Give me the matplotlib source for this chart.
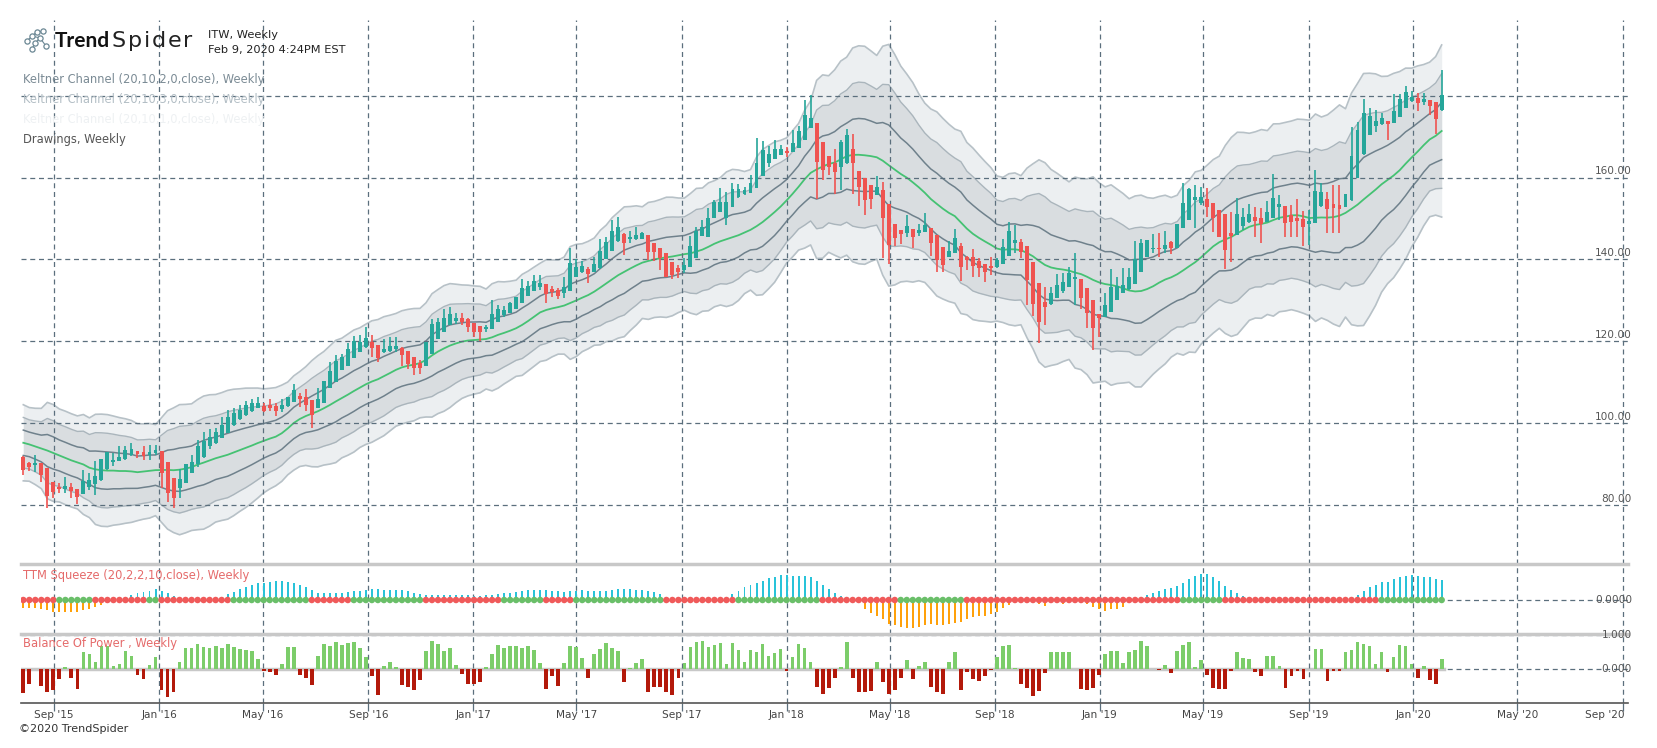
import numpy as np
import pandas as pd
import matplotlib
matplotlib.use('Agg')
import matplotlib.pyplot as plt
import matplotlib.dates as mdates
import matplotlib.transforms as mtransforms

plt.rcParams['font.family'] = ['DejaVu Sans']

# ITW weekly candles, first week starts Mon 2015-07-27
FIRST_WEEK = '2015-07-27'

OPEN = [
    91.8, 90.3, 89.8, 90.2, 89.0, 85.5, 84.5, 84.0, 84.5, 83.9,
    82.8, 84.3, 85.1, 86.1, 88.7, 90.6, 90.8, 91.2, 92.2, 93.2,
    93.0, 92.2, 92.6, 93.2, 90.6, 86.7, 84.1, 85.3, 87.7, 89.9,
    91.7, 94.4, 95.1, 96.3, 97.7, 99.5, 100.9, 101.9, 103.0, 103.8,
    104.2, 104.4, 104.2, 103.4, 104.2, 105.1, 106.6, 106.3, 105.7, 103.6,
    105.0, 108.7, 110.1, 113.0, 114.0, 116.0, 117.5, 118.5, 119.9, 119.1,
    117.3, 117.7, 118.0, 118.4, 117.6, 116.2, 114.6, 114.0, 117.0, 120.5,
    122.3, 124.0, 125.0, 125.6, 125.5, 124.5, 123.7, 123.0, 123.1, 124.8,
    126.3, 126.8, 128.0, 129.3, 131.1, 132.4, 133.3, 133.9, 132.8, 132.5,
    131.9, 132.4, 135.8, 137.0, 137.6, 137.0, 137.8, 140.0, 142.1, 144.5,
    146.2, 145.1, 145.0, 145.1, 146.0, 143.9, 142.7, 141.5, 139.4, 138.0,
    137.4, 138.1, 140.4, 145.7, 145.6, 150.2, 151.7, 150.0, 152.9, 155.2,
    156.0, 156.3, 157.5, 160.4, 163.6, 164.5, 165.5, 166.5, 166.3, 167.3,
    169.2, 172.0, 173.4, 168.8, 165.3, 163.6, 162.7, 163.5, 166.9, 161.7,
    159.8, 158.2, 155.7, 157.0, 153.5, 148.7, 147.2, 146.4, 147.4, 146.5,
    146.8, 147.6, 146.0, 143.1, 140.7, 141.5, 143.4, 140.7, 140.5, 139.7,
    138.9, 138.2, 138.1, 139.0, 140.9, 143.9, 144.3, 143.3, 139.4, 134.2,
    129.6, 129.0, 130.5, 132.4, 133.3, 135.3, 135.1, 132.9, 130.1, 126.7,
    126.0, 127.2, 130.1, 131.9, 132.7, 134.1, 137.0, 140.5, 142.5, 142.9,
    142.5, 144.3, 142.9, 147.6, 149.6, 154.5, 153.9, 154.7, 153.9, 152.1,
    151.1, 146.5, 146.0, 148.1, 149.2, 150.4, 150.2, 149.2, 150.0, 152.7,
    153.0, 150.8, 150.2, 149.8, 148.6, 149.0, 153.0, 154.7, 153.5, 153.3,
    152.9, 154.5, 159.8, 165.7, 170.4, 172.6, 173.1, 173.8, 173.4, 174.9,
    176.9, 178.8, 179.5, 178.5, 178.9, 178.5, 176.5,
]
HIGH = [
    92.0, 90.5, 92.2, 90.2, 89.0, 85.7, 85.3, 86.9, 85.3, 83.9,
    88.5, 87.7, 90.7, 91.2, 93.0, 92.6, 94.3, 94.4, 95.2, 93.2,
    94.3, 94.6, 94.6, 93.2, 90.6, 86.7, 88.9, 89.9, 92.2, 96.0,
    97.9, 98.5, 98.7, 101.6, 103.1, 103.6, 104.4, 105.4, 105.8, 106.3,
    104.8, 105.9, 104.8, 106.0, 106.5, 109.5, 107.4, 108.3, 105.7, 108.5,
    110.3, 115.0, 116.6, 116.9, 119.5, 121.3, 121.5, 123.4, 121.5, 119.1,
    120.5, 121.0, 121.0, 118.7, 117.6, 116.2, 115.4, 119.9, 125.4, 125.8,
    128.0, 128.4, 127.0, 126.8, 125.7, 124.5, 123.7, 124.0, 130.1, 128.9,
    128.5, 129.7, 130.9, 135.2, 134.7, 136.2, 136.2, 133.9, 133.5, 133.1,
    135.6, 142.7, 140.2, 139.6, 138.2, 140.7, 144.9, 145.5, 149.6, 150.4,
    146.4, 146.9, 147.8, 146.8, 146.0, 144.1, 142.7, 141.5, 139.4, 138.6,
    140.3, 145.7, 148.0, 149.6, 152.5, 154.5, 157.4, 156.5, 158.7, 158.4,
    157.6, 160.6, 169.6, 168.9, 167.8, 169.2, 168.0, 167.5, 171.6, 172.6,
    178.9, 180.2, 173.4, 168.8, 165.3, 166.9, 169.2, 171.8, 170.6, 161.7,
    159.8, 158.2, 160.4, 159.0, 153.5, 148.7, 147.2, 150.9, 147.4, 148.6,
    151.3, 147.6, 146.0, 143.1, 144.6, 147.4, 143.9, 140.9, 142.5, 140.3,
    138.9, 140.5, 140.3, 144.9, 149.2, 148.4, 145.0, 143.3, 139.4, 134.2,
    133.2, 133.3, 136.4, 136.6, 138.2, 141.6, 135.1, 132.9, 130.1, 126.7,
    131.7, 137.6, 135.8, 137.8, 137.8, 144.6, 145.1, 144.7, 146.1, 146.4,
    147.0, 144.5, 148.6, 158.7, 157.4, 158.2, 157.8, 157.4, 153.9, 152.1,
    151.1, 151.5, 155.1, 152.5, 153.5, 152.9, 152.5, 154.3, 160.9, 155.7,
    153.0, 153.3, 154.7, 151.9, 152.1, 161.8, 158.7, 156.5, 158.2, 158.2,
    156.0, 172.3, 173.6, 179.3, 176.9, 176.5, 175.8, 173.8, 180.4, 180.4,
    182.4, 181.2, 180.6, 180.6, 178.9, 178.5, 186.3,
]
LOW = [
    87.3, 88.4, 88.1, 85.5, 79.2, 81.6, 82.9, 82.9, 81.6, 80.2,
    82.8, 83.7, 82.4, 85.9, 88.5, 89.5, 90.8, 91.0, 92.0, 91.6,
    91.0, 91.0, 92.2, 84.1, 80.8, 79.3, 81.6, 85.3, 87.7, 89.4,
    91.4, 93.8, 94.9, 96.3, 97.5, 99.3, 100.8, 101.7, 102.8, 103.6,
    102.8, 103.0, 101.7, 102.8, 104.0, 105.1, 104.0, 102.9, 98.7, 103.6,
    104.8, 108.5, 110.1, 113.0, 114.0, 116.0, 117.5, 118.3, 116.1, 115.0,
    117.1, 117.5, 117.5, 114.0, 113.2, 111.8, 112.0, 114.0, 117.0, 120.5,
    122.3, 124.0, 124.2, 124.0, 122.2, 121.0, 120.0, 122.3, 123.1, 124.8,
    126.0, 126.8, 128.0, 129.3, 131.1, 132.4, 132.5, 129.4, 130.9, 130.3,
    130.5, 132.4, 135.8, 136.8, 134.2, 137.0, 137.6, 140.0, 142.1, 144.3,
    141.1, 144.0, 144.7, 145.0, 139.8, 139.7, 137.4, 135.6, 135.2, 135.4,
    136.6, 138.1, 140.4, 145.7, 145.6, 150.0, 151.7, 148.4, 152.9, 154.9,
    155.7, 156.3, 157.5, 160.4, 162.7, 164.5, 165.5, 165.1, 166.3, 167.3,
    169.2, 172.0, 154.8, 159.4, 160.6, 156.1, 157.0, 163.3, 156.1, 153.1,
    150.9, 152.3, 155.7, 140.4, 139.0, 143.4, 143.8, 145.6, 142.9, 145.8,
    146.8, 140.8, 137.0, 137.0, 140.7, 141.5, 134.8, 137.5, 135.8, 135.6,
    134.6, 136.2, 137.8, 139.0, 140.9, 141.5, 140.3, 128.9, 126.2, 119.7,
    124.0, 128.9, 130.5, 131.7, 133.3, 128.9, 128.0, 123.2, 117.9, 121.1,
    126.0, 127.2, 130.1, 131.9, 132.5, 134.1, 137.0, 140.5, 141.5, 140.7,
    141.5, 141.3, 142.9, 147.6, 149.6, 147.6, 153.3, 150.4, 146.8, 145.6,
    137.6, 139.4, 146.0, 147.2, 148.8, 145.6, 143.9, 149.2, 150.0, 149.6,
    145.6, 145.6, 145.6, 143.4, 143.5, 149.0, 152.9, 146.4, 146.4, 146.4,
    152.9, 154.3, 159.8, 165.5, 170.4, 171.2, 172.8, 169.2, 173.4, 174.9,
    176.9, 178.5, 176.3, 177.7, 175.3, 170.6, 176.3,
]
CLOSE = [
    88.6, 89.4, 90.2, 87.3, 82.2, 83.1, 83.8, 84.6, 83.5, 81.9,
    85.9, 86.1, 87.1, 91.2, 92.9, 91.0, 91.8, 93.4, 93.7, 92.5,
    92.0, 92.9, 93.4, 87.7, 82.9, 81.6, 86.4, 89.9, 90.6, 94.3,
    95.6, 96.7, 97.8, 99.5, 101.6, 102.4, 103.2, 104.4, 104.8, 104.8,
    103.0, 103.6, 103.0, 104.4, 106.5, 108.1, 105.9, 104.4, 102.1, 106.0,
    110.3, 112.7, 115.3, 116.2, 118.0, 120.1, 119.9, 120.7, 118.4, 115.8,
    118.0, 118.8, 118.8, 116.6, 114.4, 113.4, 113.5, 119.9, 124.2, 124.8,
    125.6, 126.7, 125.8, 124.8, 123.6, 122.3, 122.3, 123.4, 126.7, 127.8,
    127.6, 129.4, 130.9, 132.9, 133.6, 134.7, 134.3, 131.5, 132.0, 131.1,
    133.2, 139.2, 138.2, 138.4, 136.4, 139.0, 142.0, 144.2, 146.9, 147.8,
    144.1, 145.3, 146.0, 146.5, 141.9, 141.9, 140.3, 135.8, 136.2, 137.0,
    138.6, 143.3, 146.9, 147.8, 150.2, 154.1, 154.1, 154.0, 157.2, 157.1,
    157.0, 158.6, 163.6, 166.7, 165.8, 166.9, 167.1, 166.1, 168.5, 171.4,
    175.3, 174.5, 163.9, 161.8, 162.5, 161.4, 168.8, 170.4, 163.5, 157.6,
    154.5, 154.7, 157.8, 150.0, 143.5, 145.3, 146.1, 148.2, 145.6, 147.2,
    148.4, 144.1, 139.9, 138.6, 142.1, 145.2, 138.2, 139.9, 138.4, 137.8,
    137.0, 138.0, 139.8, 143.1, 146.9, 144.7, 141.9, 135.0, 129.1, 124.8,
    128.4, 131.9, 133.7, 134.6, 136.8, 135.8, 130.6, 126.8, 123.2, 125.6,
    128.9, 133.3, 133.5, 133.7, 135.8, 140.2, 143.9, 144.7, 142.8, 142.5,
    143.5, 142.7, 148.6, 153.7, 157.2, 155.3, 155.3, 152.9, 150.0, 145.6,
    142.3, 145.7, 151.1, 150.4, 151.1, 149.4, 148.6, 151.6, 155.1, 153.5,
    148.8, 149.2, 149.4, 147.8, 149.4, 156.7, 156.4, 152.2, 152.6, 152.4,
    156.0, 165.3, 171.6, 175.7, 175.0, 173.8, 174.6, 173.2, 176.3, 179.1,
    180.9, 179.6, 178.1, 179.1, 177.6, 174.3, 180.2,
]

# channel middle line for the first 19 weeks (history before the chart is not shown)
MID_HEAD = [95.2, 94.8, 94.3, 93.8, 93.3, 92.7, 92.1, 91.5, 90.9, 90.4,
            89.9, 89.1, 88.7, 88.5, 88.4, 88.4, 88.3, 88.3, 88.2]
ATR_HEAD = 3.1

# TTM squeeze momentum histogram (arbitrary units)
TTM_MOM = [
    -25, -25, -25, -27, -30, -35, -35, -35, -37, -35, -30, -27, -22, -15,
    -8, -3, 3,
    10, 15, 20, 25, 28, 33, 28, 20, 12,
    3, 2, 2, 2, 2, 3, 5,
    10, 17, 25, 32, 38, 45, 50, 52, 55, 57, 58, 55, 52, 45, 38, 30, 22,
    22, 22, 22, 22, 25, 28, 28, 30, 33,
    32, 30, 30, 30, 30, 28,
    22, 18, 15, 15, 15, 15, 15, 15, 15, 15,
    12, 12, 15, 15, 18, 20, 22, 25, 28, 30, 30, 30, 30, 27, 26,
    25, 27, 28, 30, 28, 28, 28, 28, 30, 33, 32, 32, 30, 30, 28, 25, 18, 10,
    3, 0, -5, -5, -3, -2, -1, 0, 2,
    5, 18, 28, 38, 45, 50, 58, 67, 70, 75, 76, 73, 73, 73, 70, 58, 45, 33, 22, 12, 3,
    -3, -10, -28, -40, -48, -58, -72, -75, -80, -84, -85, -82, -75, -72, -74, -76,
    -73, -70, -67, -58, -52, -48, -48, -42, -35, -25, -15,
    -8, -5, -5, -8, -12, -17, -10, -10, -12, -8, -5,
    -8, -12, -20, -28, -32, -28, -27, -20, -10, 0, 5, 15, 22, 28, 33, 35, 42, 52,
    63, 73, 78, 78, 68, 58, 42, 30, 20, 12, 7, 3, 1, 0, -1, -2, -3, -5, -8, -8,
    -5, -2, 0, 1, 1, 2, 3, 5, 15, 28, 38, 45, 53, 55, 62, 70, 73, 76, 73, 70,
    68, 63, 60,
]
# squeeze dots: runs of (state, weeks); 'on' = red dot, 'off' = green dot
SQUEEZE_RUNS = [('on', 6), ('off', 6), ('on', 9), ('off', 2), ('on', 12), ('off', 13),
                ('on', 7), ('off', 12), ('on', 13), ('off', 7), ('on', 5), ('off', 15),
                ('on', 12), ('off', 14), ('on', 13), ('off', 11), ('on', 36), ('off', 7),
                ('on', 26), ('off', 11)]

# balance of power, one value per week
BOP = [
    -0.72, -0.44, 0.00, -0.49, -0.69, -0.61, -0.29, 0.07, -0.25, -0.59,
    0.49, 0.44, 0.20, 0.69, 0.67, 0.10, 0.15, 0.54, 0.39, -0.18,
    -0.29, 0.12, 0.34, -0.61, -0.83, -0.69, 0.20, 0.61, 0.61, 0.74,
    0.64, 0.61, 0.69, 0.61, 0.74, 0.64, 0.59, 0.57, 0.54, 0.29,
    -0.05, -0.08, -0.18, 0.15, 0.64, 0.64, -0.18, -0.27, -0.46, 0.37,
    0.74, 0.69, 0.80, 0.71, 0.76, 0.78, 0.61, 0.34, -0.20, -0.76,
    0.08, 0.22, 0.05, -0.46, -0.54, -0.61, -0.31, 0.54, 0.83, 0.74,
    0.54, 0.61, 0.12, -0.15, -0.44, -0.44, -0.37, 0.05, 0.44, 0.71,
    0.61, 0.69, 0.69, 0.61, 0.69, 0.57, 0.18, -0.59, -0.20, -0.49,
    0.18, 0.67, 0.64, 0.31, -0.25, 0.44, 0.59, 0.76, 0.61, 0.54,
    -0.39, 0.02, 0.18, 0.29, -0.67, -0.54, -0.54, -0.67, -0.75, -0.25,
    0.18, 0.64, 0.80, 0.83, 0.64, 0.71, 0.76, 0.15, 0.76, 0.57,
    0.22, 0.57, 0.49, 0.74, 0.39, 0.47, 0.59, -0.05, 0.34, 0.74,
    0.61, 0.20, -0.54, -0.74, -0.57, -0.25, 0.05, 0.78, -0.25, -0.67,
    -0.67, -0.64, 0.22, -0.39, -0.74, -0.61, -0.25, 0.27, -0.29, 0.10,
    0.22, -0.54, -0.69, -0.74, 0.22, 0.51, -0.61, -0.08, -0.29, -0.34,
    -0.22, -0.02, 0.34, 0.67, 0.71, 0.03, -0.44, -0.57, -0.80, -0.64,
    -0.12, 0.49, 0.49, 0.51, 0.51, 0.00, -0.59, -0.61, -0.57, -0.18,
    0.44, 0.54, 0.54, 0.18, 0.49, 0.57, 0.83, 0.69, 0.00, -0.03,
    0.12, -0.12, 0.54, 0.71, 0.80, 0.05, 0.26, -0.18, -0.57, -0.59,
    -0.59, -0.05, 0.51, 0.31, 0.29, -0.10, -0.20, 0.37, 0.39, 0.10,
    -0.57, -0.22, -0.05, -0.29, 0.00, 0.59, 0.59, -0.34, -0.05, -0.05,
    0.49, 0.57, 0.80, 0.74, 0.67, 0.15, 0.49, -0.08, 0.34, 0.71,
    0.69, 0.15, -0.25, 0.10, -0.31, -0.44, 0.29,
]

PRICE_TICKS = [80, 100, 120, 140, 160, 180]
PRICE_LABELS = ['80.00', '100.00', '120.00', '140.00', '160.00', '']
MONTH_TICKS = ['2015-09-01', '2016-01-01', '2016-05-01', '2016-09-01', '2017-01-01',
               '2017-05-01', '2017-09-01', '2018-01-01', '2018-05-01', '2018-09-01',
               '2019-01-01', '2019-05-01', '2019-09-01', '2020-01-01', '2020-05-01',
               '2020-09-01']
MONTH_LABELS = ["Sep '15", "Jan '16", "May '16", "Sep '16", "Jan '17", "May '17",
                "Sep '17", "Jan '18", "May '18", "Sep '18", "Jan '19", "May '19",
                "Sep '19", "Jan '20", "May '20", "Sep '20"]

o, h, l, c = (np.array(v, dtype=float) for v in (OPEN, HIGH, LOW, CLOSE))
n = len(c)
assert len(o) == len(h) == len(l) == n and len(TTM_MOM) == n and len(BOP) == n
dates = pd.date_range(FIRST_WEEK, periods=n, freq='W-MON')
x = mdates.date2num(dates)

# keltner channel: 20 week average, 10 week (wilder) average true range
mid = pd.Series(c).rolling(20).mean().to_numpy()
mid[:len(MID_HEAD)] = MID_HEAD
prev_c = np.r_[c[0], c[:-1]]
tr = np.maximum(h - l, np.maximum(np.abs(h - prev_c), np.abs(l - prev_c)))
atr = np.empty(n)
atr[0] = ATR_HEAD
for i in range(1, n):
    atr[i] = atr[i - 1] + (tr[i] - atr[i - 1]) / 10

bop = np.array(BOP)
squeeze = np.concatenate([[s == 'on'] * k for s, k in SQUEEZE_RUNS])
mom = np.array(TTM_MOM, dtype=float)

W, H = 1657, 748
fig = plt.figure(figsize=(W / 100, H / 100), dpi=100)
fig.patch.set_facecolor('white')


def rect(x0, y0, x1, y1):
    return [x0 / W, 1 - y1 / H, (x1 - x0) / W, (y1 - y0) / H]


ax = fig.add_axes(rect(21, 20, 1628, 564))
ax_t = fig.add_axes(rect(21, 564, 1628, 634))
ax_b = fig.add_axes(rect(21, 634, 1628, 702.5))

px_day = 6.01 / 7
x_left = x[0] - 2.3 / px_day
x_right = x_left + 1607 / px_day
GRID = '#5b6f7d'
month_x = mdates.date2num(pd.to_datetime(MONTH_TICKS))

for a in (ax, ax_t, ax_b):
    a.set_xlim(x_left, x_right)
    a.set_facecolor('none')
    a.set_yticks([])
    for s in a.spines.values():
        s.set_visible(False)
    for mx in month_x:
        a.axvline(mx, color=GRID, lw=0.9, ls=(0, (4, 3)), zorder=2)

# ---- price panel
ax.set_ylim(65.58, 198.5)
ax.fill_between(x, mid - 3 * atr, mid + 3 * atr, color='#eceff1', lw=0, zorder=1)
ax.fill_between(x, mid - 2 * atr, mid + 2 * atr, color='#d9dde0', lw=0, zorder=1.1)
for k, col, lw in ((3, '#b7c1c7', 1.2), (2, '#aab5bc', 1.0), (1, '#6f818c', 1.1)):
    ax.plot(x, mid + k * atr, color=col, lw=lw, zorder=1.5)
    ax.plot(x, mid - k * atr, color=col, lw=lw, zorder=1.5)
ax.plot(x, mid, color='#45c273', lw=1.3, zorder=1.6)

for p in PRICE_TICKS:
    ax.axhline(p, color=GRID, lw=0.9, ls=(0, (4, 3)), zorder=2)

up = c >= o
col = np.where(up, '#26a69a', '#ef5350')
ax.vlines(x, l, h, colors=col, lw=1.2, zorder=3)
ax.bar(x, np.maximum(np.abs(c - o), 0.3), bottom=np.minimum(o, c), width=4.6,
       color=col, lw=0, zorder=4)
ax.set_xticks([])

tr_lab = mtransforms.blended_transform_factory(fig.transFigure, ax.transData)
for p, lab in zip(PRICE_TICKS, PRICE_LABELS):
    ax.text(1632 / W, p + 0.3, lab, transform=tr_lab, ha='right', va='bottom',
            fontsize=7.6, color='#555555', clip_on=False)

# ---- TTM squeeze panel
ax_t.set_ylim(-102, 108)
ax_t.axhline(0, color=GRID, lw=0.9, ls=(0, (4, 3)), zorder=1)
ax_t.bar(x, mom, width=2.3, color=np.where(mom >= 0, '#29c3d9', '#ffa10a'), lw=0, zorder=2)
ax_t.scatter(x, np.zeros(n), s=22, c=np.where(squeeze, '#f05a5a', '#6abf69'),
             linewidths=0, zorder=3)
ax_t.spines['top'].set_visible(True)
ax_t.spines['top'].set_color('#c8c8c8')
ax_t.spines['top'].set_linewidth(2.5)
ax_t.set_xticks([])
tr_t = mtransforms.blended_transform_factory(fig.transFigure, ax_t.transData)
ax_t.text(1632 / W, 0, '0.0000', transform=tr_t, ha='right', va='center',
          fontsize=7.6, color='#555555', clip_on=False)

# ---- balance of power panel
ax_b.set_ylim(-0.985, 1.03)
ax_b.axhline(1, color=GRID, lw=0.9, ls=(0, (4, 3)), zorder=1)
ax_b.axhline(0, color=GRID, lw=0.9, ls=(0, (4, 3)), zorder=1)
ax_b.plot([x_left, x[-1] + 3], [0, 0], color='#c8c8c8', lw=2.5, zorder=1.2)
ax_b.bar(x, bop, width=4.4, color=np.where(bop >= 0, '#7ccd6a', '#b3190a'), lw=0, zorder=2)
ax_b.spines['top'].set_visible(True)
ax_b.spines['top'].set_color('#c8c8c8')
ax_b.spines['top'].set_linewidth(2.5)
ax_b.spines['bottom'].set_visible(True)
ax_b.spines['bottom'].set_color('#555555')
ax_b.spines['bottom'].set_linewidth(1.2)
ax_b.set_xticks(month_x)
ax_b.set_xticklabels([])
ax_b.tick_params(axis='x', length=6, width=0.9, color=GRID, direction='out')
tr_b = mtransforms.blended_transform_factory(fig.transFigure, ax_b.transData)
for v, lab in ((1, '1.000'), (0, '0.000')):
    ax_b.text(1632 / W, v, lab, transform=tr_b, ha='right', va='center',
              fontsize=7.6, color='#555555', clip_on=False)

tr_x = mtransforms.blended_transform_factory(ax_b.transData, fig.transFigure)
for i, (mx, lab) in enumerate(zip(month_x, MONTH_LABELS)):
    last = i == len(month_x) - 1
    ax_b.text(mx + (2 / px_day if last else 0), 1 - 715 / H, lab, transform=tr_x,
              ha='right' if last else 'center', va='center', fontsize=7.6,
              color='#444444', clip_on=False)

# ---- header and legend texts
ax_logo = fig.add_axes(rect(22, 26, 52, 54))
ax_logo.set_xlim(22, 52)
ax_logo.set_ylim(54, 26)
ax_logo.axis('off')
nodes = [(27, 41), (32, 36), (37, 32), (43, 31), (40, 38), (35, 43), (46, 46), (32, 49)]
edges = [(0, 1), (1, 2), (2, 3), (1, 4), (4, 6), (4, 5), (5, 7)]
for a_, b_ in edges:
    ax_logo.plot([nodes[a_][0], nodes[b_][0]], [nodes[a_][1], nodes[b_][1]],
                 color='#6b8794', lw=0.8)
ax_logo.scatter([p[0] for p in nodes], [p[1] for p in nodes], s=14, facecolor='white',
                edgecolor='#6b8794', lw=0.9, zorder=3)

renderer = fig.canvas.get_renderer()
t1 = fig.text(55 / W, 1 - 46.7 / H, 'Trend', fontsize=15, fontweight='bold',
              family='Lato', va='baseline', color='#111111')
xpos = t1.get_window_extent(renderer).x1 + 1.5
for ch in 'Spider':
    t = fig.text(xpos / W, 1 - 46.7 / H, ch, fontsize=16, family='DejaVu Sans',
                 va='baseline', color='#222222')
    xpos = t.get_window_extent(renderer).x1 + 1.8

fig.text(208 / W, 1 - 35 / H, 'ITW, Weekly', fontsize=8.2, va='center', color='#222222')
fig.text(208 / W, 1 - 50 / H, 'Feb 9, 2020 4:24PM EST', fontsize=8.2, va='center',
         color='#222222')
legend = [('Keltner Channel (20,10,2,0,close), Weekly', '#7b8b95', 80),
          ('Keltner Channel (20,10,3,0,close), Weekly', '#b3bec5', 100),
          ('Keltner Channel (20,10,1,0,close), Weekly', '#eef1f3', 120),
          ('Drawings, Weekly', '#555555', 140)]
for txt, colr, yy in legend:
    fig.text(23 / W, 1 - yy / H, txt, fontsize=8.3, va='center', color=colr)
fig.text(23 / W, 1 - 575 / H, 'TTM Squeeze (20,2,2,10,close), Weekly', fontsize=8.3,
         va='center', color='#e56b6b')
fig.text(23 / W, 1 - 643 / H, 'Balance Of Power , Weekly', fontsize=8.3,
         va='center', color='#e56b6b')
fig.text(19 / W, 1 - 729 / H, '\u00a92020 TrendSpider', fontsize=8, va='center',
         color='#333333')

fig.savefig('out.png', dpi=100)
